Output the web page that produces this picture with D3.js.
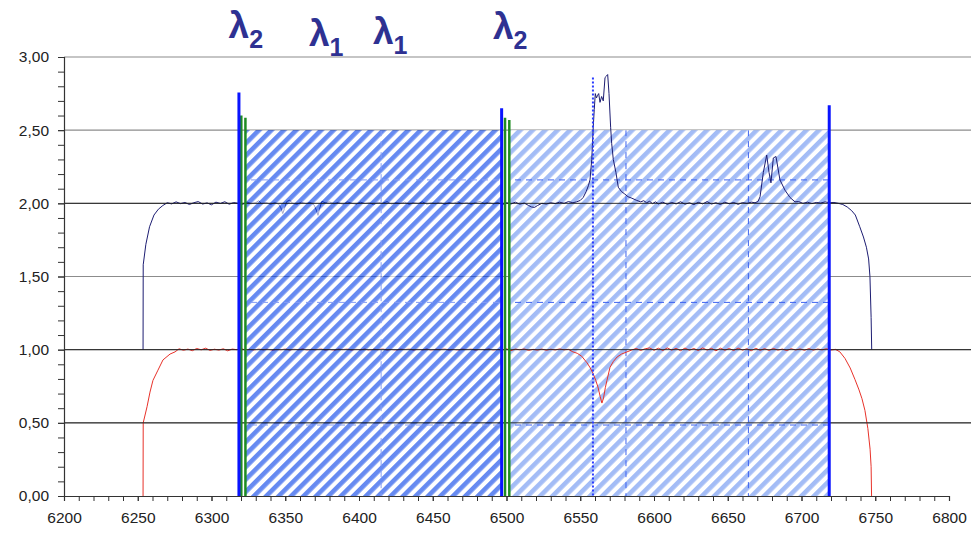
<!DOCTYPE html>
<html>
<head>
<meta charset="utf-8">
<script src="https://cdn.jsdelivr.net/npm/d3@7"></script>
<style>
  body { margin: 0; background: #fff; }
  svg { display: block; }
  text { font-family: "Liberation Sans", Arial, sans-serif; }
</style>
</head>
<body>
<svg id="chart" width="971" height="534"></svg>
<script>
// ---- axis ticks ----
const xTickValues = [6200, 6250, 6300, 6350, 6400, 6450, 6500, 6550, 6600, 6650, 6700, 6750, 6800];
const yTickValues = [0, 0.5, 1.0, 1.5, 2.0, 2.5, 3.0];
const darkLevels = [0.5, 1.0, 2.0];

// ---- spectra: [wavelength (Å), relative flux] ----
// upper trace (offset +1)
const upperSpectrum = [
  [6253.6, 1.00], [6253.7, 1.58], [6255.5, 1.72], [6258.0, 1.84], [6261.0, 1.92], [6264.0, 1.96],
  [6267.0, 1.985], [6270.0, 2.004], [6273, 1.996], [6276, 2.010], [6279, 1.998], [6282, 2.006],
  [6285, 1.992], [6288, 2.004], [6291, 2.012], [6294, 1.995], [6297, 2.003], [6300, 1.990],
  [6303, 2.008], [6306, 1.999], [6309, 2.011], [6312, 1.994], [6315, 2.005], [6318, 2.000],
  [6321, 1.992], [6324, 2.009], [6327, 1.997], [6330, 2.004], [6332, 2.018], [6334, 1.996],
  [6337, 2.006], [6340, 1.993], [6343, 2.004], [6345.5, 1.995], [6347, 1.970], [6348.3, 1.930],
  [6349.5, 1.965], [6351, 2.012], [6353, 2.022], [6355, 2.000], [6358, 1.994], [6361, 2.008],
  [6364, 1.998], [6367, 2.006], [6369.5, 1.990], [6371.2, 1.950], [6372.2, 1.918], [6373.2, 1.960],
  [6374.8, 2.014], [6377, 2.004], [6380, 2.010], [6383, 1.996], [6386, 2.007], [6389, 1.993],
  [6392, 2.010], [6395, 2.001], [6398, 1.994], [6401, 2.008], [6404, 1.998], [6407, 2.004],
  [6410, 1.990], [6413, 2.007], [6416, 2.000], [6419, 2.012], [6422, 1.995], [6425, 2.004],
  [6428, 1.998], [6431, 2.009], [6434, 1.993], [6437, 2.005], [6440, 1.999], [6443, 2.010],
  [6446, 1.994], [6449, 2.003], [6452, 1.997], [6455, 2.008], [6458, 1.992], [6461, 2.005],
  [6464, 2.000], [6467, 2.011], [6470, 1.996], [6473, 2.006], [6476, 1.993], [6479, 2.004],
  [6482, 2.013], [6485, 1.997], [6488, 2.008], [6491, 1.995], [6494, 2.006], [6497, 1.990],
  [6500, 2.004], [6503, 1.996], [6506, 2.008], [6509, 1.994], [6512, 2.002], [6515, 1.985],
  [6517, 1.975], [6519, 1.972], [6521, 1.985], [6524, 2.000], [6527, 1.995], [6530, 2.004],
  [6533, 1.998], [6536, 2.008], [6539, 2.000], [6542, 2.012], [6545, 2.004], [6547.5, 2.010],
  [6550, 2.020], [6552, 2.040], [6554, 2.080], [6555.5, 2.120], [6556.6, 2.160], [6557.8, 2.300],
  [6558.8, 2.520], [6559.5, 2.640], [6560.2, 2.750], [6561.0, 2.720], [6561.6, 2.735], [6562.5, 2.750],
  [6563.4, 2.690], [6564.5, 2.730], [6565.6, 2.700], [6566.8, 2.860], [6567.8, 2.870], [6568.6, 2.880],
  [6569.5, 2.750], [6570.6, 2.520], [6571.3, 2.410], [6572.4, 2.300], [6574.2, 2.210], [6575.8, 2.110],
  [6578.0, 2.080], [6580, 2.065], [6582.4, 2.045], [6585, 2.035], [6588.3, 2.020], [6591, 2.010],
  [6593, 2.018], [6595, 2.004], [6597, 2.014], [6599, 1.998], [6601, 2.010], [6603, 1.996],
  [6606, 2.008], [6609, 1.993], [6612, 2.006], [6615, 1.996], [6618, 2.011], [6621, 1.994],
  [6624, 2.004], [6627, 1.991], [6630, 2.007], [6633, 1.996], [6636, 2.012], [6639, 1.995],
  [6642, 2.004], [6645, 1.992], [6648, 2.008], [6651, 1.997], [6654, 2.006], [6657, 1.993],
  [6660, 2.005], [6663, 2.000], [6666, 2.008], [6668.5, 2.004], [6670.5, 2.012], [6671.9, 2.045],
  [6674.1, 2.210], [6676.4, 2.330], [6678.0, 2.210], [6679.3, 2.140], [6680.9, 2.310], [6682.7, 2.320],
  [6685.4, 2.160], [6688.8, 2.090], [6692.2, 2.040], [6695.6, 2.010], [6698, 2.012], [6701, 2.000],
  [6704, 2.008], [6707, 1.998], [6710, 2.006], [6713, 2.002], [6716, 2.010], [6719, 2.004],
  [6722, 2.006], [6725, 2.000], [6728, 1.992], [6731, 1.975], [6734, 1.950], [6736.5, 1.920],
  [6739.5, 1.840], [6742, 1.770], [6744, 1.700], [6745.5, 1.620], [6746.4, 1.500], [6747.2, 1.220],
  [6747.6, 1.000]
];

// lower trace
const lowerSpectrum = [
  [6253.6, 0.00], [6253.7, 0.50], [6256.3, 0.61], [6258.3, 0.71], [6260.3, 0.79], [6263.7, 0.86],
  [6267.1, 0.93], [6271.9, 0.97], [6275.3, 0.985], [6278, 1.006], [6281, 0.996], [6284, 1.004],
  [6287, 0.993], [6290, 1.008], [6293, 0.999], [6296, 1.010], [6299, 0.995], [6302, 1.003],
  [6305, 0.997], [6308, 1.006], [6311, 0.992], [6314, 1.004], [6317, 1.000], [6320, 1.009],
  [6323, 0.996], [6326, 1.003], [6329, 0.994], [6332, 1.007], [6335, 0.998], [6338, 1.005],
  [6341, 0.993], [6344, 1.002], [6347, 0.997], [6350, 1.008], [6353, 0.995], [6356, 1.004],
  [6359, 0.999], [6362, 1.006], [6365, 0.994], [6368, 1.003], [6371, 0.998], [6374, 1.009],
  [6377, 0.996], [6380, 1.002], [6383, 0.993], [6386, 1.005], [6389, 1.000], [6392, 1.007],
  [6395, 0.995], [6398, 1.003], [6401, 0.998], [6404, 1.006], [6407, 0.992], [6410, 1.004],
  [6413, 0.999], [6416, 1.008], [6419, 0.996], [6422, 1.002], [6425, 0.994], [6428, 1.005],
  [6431, 1.000], [6434, 1.007], [6437, 0.995], [6440, 1.003], [6443, 0.997], [6446, 1.006],
  [6449, 0.993], [6452, 1.004], [6455, 0.999], [6458, 1.008], [6461, 0.996], [6464, 1.003],
  [6467, 0.994], [6470, 1.005], [6473, 1.000], [6476, 1.006], [6479, 0.995], [6482, 1.003],
  [6485, 0.998], [6488, 1.007], [6491, 0.994], [6494, 1.002], [6497, 0.997], [6500, 1.006],
  [6503, 0.993], [6506, 1.004], [6509, 0.999], [6512, 1.005], [6515, 0.995], [6518, 1.002],
  [6521, 0.997], [6524, 1.004], [6527, 0.996], [6530, 1.003], [6533, 0.998], [6536, 1.005],
  [6539, 0.999], [6542, 1.002], [6545, 0.985], [6548, 0.975], [6551, 0.955], [6554.6, 0.910],
  [6556.5, 0.880], [6558.6, 0.840], [6560.5, 0.790], [6562.0, 0.745], [6563.5, 0.680], [6564.7, 0.635],
  [6565.8, 0.670], [6567.0, 0.740], [6568.1, 0.790], [6570.2, 0.880], [6572.5, 0.920], [6575.0, 0.950],
  [6578.0, 0.970], [6581.7, 0.985], [6585, 0.998], [6588, 1.008], [6591, 0.995], [6594, 1.006],
  [6597, 1.012], [6600, 0.996], [6603, 1.010], [6606, 0.994], [6609, 1.012], [6612, 0.997],
  [6615, 1.009], [6618, 0.993], [6621, 1.011], [6624, 0.996], [6627, 1.008], [6630, 0.994],
  [6633, 1.012], [6636, 0.997], [6639, 1.009], [6642, 0.992], [6645, 1.010], [6648, 0.996],
  [6651, 1.008], [6654, 0.994], [6657, 1.011], [6660, 0.997], [6663, 1.006], [6666, 0.993],
  [6669, 1.009], [6672, 0.996], [6675, 1.007], [6678, 0.995], [6681, 1.008], [6684, 0.997],
  [6687, 1.004], [6690, 0.994], [6693, 1.006], [6696, 0.998], [6699, 1.005], [6702, 0.996],
  [6705, 1.007], [6708, 0.997], [6711, 1.004], [6714, 0.999], [6717, 1.006], [6720, 0.998],
  [6723, 1.002], [6726, 0.985], [6729.5, 0.940], [6733, 0.875], [6736.3, 0.795], [6739, 0.725],
  [6741, 0.665], [6743, 0.585], [6745, 0.460], [6746.5, 0.320], [6747.2, 0.200], [6747.5, 0.000]
];

// ---- filter windows (hatched), marker lines ----
const windowStart = [6323.2, 6502.2];
const windowEnd   = [6496.6, 6718.8];
const windowTone  = ["strong", "light"];
const windowTop = 2.5;

const blueMarkerX   = [6318.6, 6496.7, 6718.8];
const blueMarkerTop = [2.757, 2.65, 2.67];
const greenMarkerX   = [6320.2, 6323.0, 6499.0, 6501.9];
const greenMarkerTop = [2.60, 2.585, 2.585, 2.57];
const lineCentreX = 6558.6;
const lineCentreTop = 2.86;

// secondary dashed grid shown inside the windows
const overlayGridX = [6415, 6581, 6664];
const overlayGridY = [0.485, 1.323, 2.16];

// ---- wavelength labels (x = left edge of the λ glyph) ----
const labelX   = [6311.6, 6366.1, 6409.5, 6490.8];
const labelSub = ["2", "1", "1", "2"];
const labelBaseline = [37.5, 46.4, 44.0, 39.3];

// ---------------------------------------------------------------
const svg = d3.select("#chart");
const x = d3.scaleLinear().domain([6200, 6800]).range([64, 949]);
const y = d3.scaleLinear().domain([0, 3]).range([496, 57]);
const fmt = d3.formatLocale({ decimal: ",", thousands: ".", grouping: [3], currency: ["", ""] }).format(".2f");

// hatch patterns and per-window clip paths
const defs = svg.append("defs");
const tones = { strong: "#0a44ea", light: "#a3bcf6" };
Object.entries(tones).forEach(([key, col]) => {
  const p = defs.append("pattern")
    .attr("id", "hatch-" + key)
    .attr("patternUnits", "userSpaceOnUse")
    .attr("width", 8.8).attr("height", 8.8)
    .attr("patternTransform", "rotate(45)");
  p.append("rect").attr("width", 8.8).attr("height", 8.8).attr("fill", "#fff");
  p.append("rect").attr("x", 0).attr("width", 4.6).attr("height", 8.8).attr("fill", col);
});
windowStart.forEach((s, i) => {
  defs.append("clipPath").attr("id", "win-clip-" + i)
    .append("rect")
    .attr("x", x(s)).attr("y", y(windowTop))
    .attr("width", x(windowEnd[i]) - x(s)).attr("height", y(0) - y(windowTop));
});

const line = d3.line().x(d => x(d[0])).y(d => y(d[1]));

// one hatched window plus its share of the dashed secondary grid
function drawWindow(i, opacity) {
  const g = svg.append("g").attr("opacity", opacity);
  g.append("rect")
    .attr("x", x(windowStart[i])).attr("y", y(windowTop))
    .attr("width", x(windowEnd[i]) - x(windowStart[i]))
    .attr("height", y(0) - y(windowTop))
    .attr("fill", `url(#hatch-${windowTone[i]})`);
  const og = g.append("g").attr("clip-path", `url(#win-clip-${i})`)
    .attr("stroke", "#3d63f0").attr("stroke-width", 1).attr("stroke-dasharray", "6,5");
  og.selectAll("line.v").data(overlayGridX).join("line").attr("class", "v")
    .attr("x1", d => x(d)).attr("x2", d => x(d)).attr("y1", y(windowTop)).attr("y2", y(0));
  og.selectAll("line.h").data(overlayGridY).join("line").attr("class", "h")
    .attr("x1", x(6200)).attr("x2", x(6800)).attr("y1", d => y(d)).attr("y2", d => y(d));
}

// light gridlines
svg.append("g").selectAll("line").data(yTickValues.filter(v => v > 0)).join("line")
  .attr("x1", x(6200)).attr("x2", 971)
  .attr("y1", d => y(d)).attr("y2", d => y(d))
  .attr("stroke", "#8c8c8c").attr("stroke-width", 1.2);

// right window sits beneath the traces
drawWindow(1, 1);

// spectra
svg.append("path").datum(lowerSpectrum).attr("d", line)
  .attr("fill", "none").attr("stroke", "#e8322a").attr("stroke-width", 1);
svg.append("path").datum(upperSpectrum).attr("d", line)
  .attr("fill", "none").attr("stroke", "#1d1d72").attr("stroke-width", 1);

// left window is laid over the traces, letting them show faintly
drawWindow(0, 0.62);

// dark reference lines
svg.append("g").selectAll("line").data(darkLevels).join("line")
  .attr("x1", x(6200)).attr("x2", 971)
  .attr("y1", d => y(d)).attr("y2", d => y(d))
  .attr("stroke", "#1c1c1c").attr("stroke-width", 1).attr("opacity", 0.9);

// axes
svg.append("g").attr("transform", `translate(${x(6200)},0)`)
  .call(d3.axisLeft(y).tickValues(yTickValues).tickFormat(fmt).tickSize(6).tickPadding(9));
svg.append("g").attr("transform", `translate(${x(6200)},0)`)
  .call(d3.axisLeft(y).tickValues(d3.range(0, 3.001, 0.1)).tickFormat("").tickSize(6))
  .select(".domain").remove();
svg.append("g").attr("transform", `translate(0,${y(0)})`)
  .call(d3.axisBottom(x).tickValues(xTickValues).tickFormat(d3.format("d")).tickSize(5).tickPadding(11));
svg.append("g").attr("transform", `translate(0,${y(0)})`)
  .call(d3.axisBottom(x).tickValues(d3.range(6200, 6801, 10)).tickFormat("").tickSize(5))
  .select(".domain").remove();
svg.selectAll(".domain").attr("stroke", "#333").attr("stroke-width", 1.2);
svg.selectAll(".tick line").attr("stroke", "#333");
svg.selectAll(".tick text").attr("fill", "#222").style("font-size", "15.5px")
  .style("font-family", "'Liberation Sans', Arial, sans-serif");

// marker lines
svg.append("line")
  .attr("x1", x(lineCentreX)).attr("x2", x(lineCentreX))
  .attr("y1", y(lineCentreTop)).attr("y2", y(0))
  .attr("stroke", "#2b3cff").attr("stroke-width", 2).attr("stroke-dasharray", "2,2");
svg.append("g").selectAll("line").data(greenMarkerX).join("line")
  .attr("x1", d => x(d)).attr("x2", d => x(d))
  .attr("y1", (d, i) => y(greenMarkerTop[i])).attr("y2", y(0))
  .attr("stroke", "#1f8c22").attr("stroke-width", 2.5);
svg.append("g").selectAll("line").data(blueMarkerX).join("line")
  .attr("x1", d => x(d)).attr("x2", d => x(d))
  .attr("y1", (d, i) => y(blueMarkerTop[i])).attr("y2", y(0))
  .attr("stroke", "#0a14ff").attr("stroke-width", 3);

// wavelength labels
const lab = svg.append("g").selectAll("text").data(labelX).join("text")
  .attr("x", d => x(d)).attr("y", (d, i) => labelBaseline[i])
  .attr("text-anchor", "start")
  .attr("fill", "#2e3192").attr("font-weight", "bold");
lab.append("tspan").text("λ").style("font-size", "37px");
lab.append("tspan").text((d, i) => labelSub[i]).attr("dy", 10).style("font-size", "25px");
</script>
</body>
</html>
